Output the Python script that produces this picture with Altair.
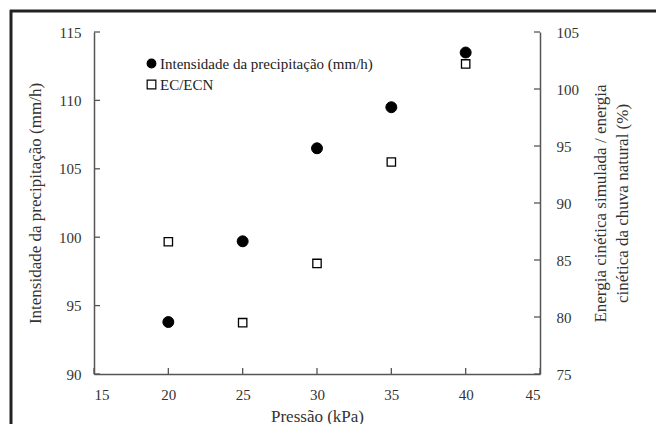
import altair as alt
import pandas as pd

# ---- data ----
pressao = [20, 25, 30, 35, 40]
intensidade = [93.8, 99.7, 106.5, 109.5, 113.5]
ec_ecn = [86.6, 79.5, 84.7, 93.6, 102.2]
serie_nomes = ["Intensidade da precipitação (mm/h)", "EC/ECN"]

x_ticks = [15, 20, 25, 30, 35, 40, 45]
y_left_ticks = [90, 95, 100, 105, 110, 115]
y_right_ticks = [75, 80, 85, 90, 95, 100, 105]

W, H = 446, 342
FONT = "Liberation Serif"
TXT = "#333333"
AX = "#555555"

df_int = pd.DataFrame({"pressao": pressao, "valor": intensidade, "serie": serie_nomes[0]})
df_ec = pd.DataFrame({"pressao": pressao, "valor": ec_ecn, "serie": serie_nomes[1]})
df_xt = pd.DataFrame({"pressao": x_ticks})
df_lt = pd.DataFrame({"valor": y_left_ticks})
df_rt = pd.DataFrame({"valor": y_right_ticks})

common_axis = dict(ticks=False, grid=False, domainColor=AX, domainWidth=1.5,
                   labelFont=FONT, titleFont=FONT, labelFontSize=15, titleFontSize=17,
                   labelColor=TXT, titleColor=TXT, titleFontWeight="normal")

x_scale = alt.Scale(domain=[15, 45], nice=False, zero=False)
x_axis = alt.Axis(title="Pressão (kPa)", values=x_ticks, labelPadding=13, titlePadding=6,
                  **common_axis)
yl_scale = alt.Scale(domain=[90, 115], nice=False, zero=False)
yr_scale = alt.Scale(domain=[75, 105], nice=False, zero=False)
yl_axis = alt.Axis(title="Intensidade da precipitação (mm/h)", values=y_left_ticks,
                   labelPadding=13, titlePadding=14, **common_axis)
yr_axis = alt.Axis(title=["Energia cinética simulada / energia", "cinética da chuva natural (%)"],
                   orient="right", values=y_right_ticks,
                   labelPadding=16, titlePadding=9, titleAngle=270, titleBaseline="bottom",
                   titleLineHeight=22, **common_axis)

legend_def = alt.Legend(title=None, orient="none", legendX=50, legendY=24,
                        labelFont=FONT, labelFontSize=15, labelColor="#222", labelLimit=0,
                        symbolSize=75, symbolStrokeWidth=1.2, rowPadding=5,
                        labelOffset=1)
shape_enc = alt.Shape("serie:N", scale=alt.Scale(domain=serie_nomes, range=["circle", "square"]),
                      legend=legend_def)
fill_enc = alt.Fill("serie:N", scale=alt.Scale(domain=serie_nomes, range=["black", "white"]),
                    legend=legend_def)
stroke_enc = alt.Stroke("serie:N", scale=alt.Scale(domain=serie_nomes, range=["black", "black"]),
                        legend=legend_def)

circles = alt.Chart(df_int).mark_point(filled=False, opacity=1,
                                        strokeWidth=1, size=120).encode(
    x=alt.X("pressao:Q", scale=x_scale, axis=x_axis),
    y=alt.Y("valor:Q", scale=yl_scale, axis=yl_axis),
    shape=shape_enc, fill=fill_enc, stroke=stroke_enc,
)
x_tick_rules = alt.Chart(df_xt).mark_rule(color=AX, strokeWidth=1.3).encode(
    x=alt.X("pressao:Q", scale=x_scale, axis=x_axis),
    y=alt.value(H), y2=alt.value(H - 6),
)
l_tick_rules = alt.Chart(df_lt).mark_rule(color=AX, strokeWidth=1.3).encode(
    y=alt.Y("valor:Q", scale=yl_scale, axis=yl_axis),
    x=alt.value(0), x2=alt.value(6),
)
left = alt.layer(circles, x_tick_rules, l_tick_rules)

squares = alt.Chart(df_ec).mark_point(filled=False, opacity=1,
                                       strokeWidth=1.3, size=70).encode(
    x=alt.X("pressao:Q", scale=x_scale, axis=x_axis),
    y=alt.Y("valor:Q", scale=yr_scale, axis=yr_axis),
    shape=shape_enc, fill=fill_enc, stroke=stroke_enc,
)
r_tick_rules = alt.Chart(df_rt).mark_rule(color=AX, strokeWidth=1.3).encode(
    y=alt.Y("valor:Q", scale=yr_scale, axis=yr_axis),
    x=alt.value(W - 6), x2=alt.value(W),
)
right = alt.layer(squares, r_tick_rules)

# outer figure frame (left and top edges)
frame_left = alt.Chart(pd.DataFrame({"a": [0]})).mark_rule(color="#222", strokeWidth=3).encode(
    x=alt.value(-83), y=alt.value(-22), y2=alt.value(400))
frame_top = alt.Chart(pd.DataFrame({"a": [0]})).mark_rule(color="#222", strokeWidth=3).encode(
    x=alt.value(-84), x2=alt.value(570), y=alt.value(-21))

chart = alt.layer(left, right, frame_left, frame_top).resolve_scale(
    y="independent"
).properties(
    width=W, height=H,
    autosize=alt.AutoSizeParams(type="none"),
    padding={"left": 86, "top": 24, "right": 116, "bottom": 50},
).configure(font=FONT).configure_view(stroke=None)

chart.save("out.html", embed_options={"renderer": "svg", "actions": False})
